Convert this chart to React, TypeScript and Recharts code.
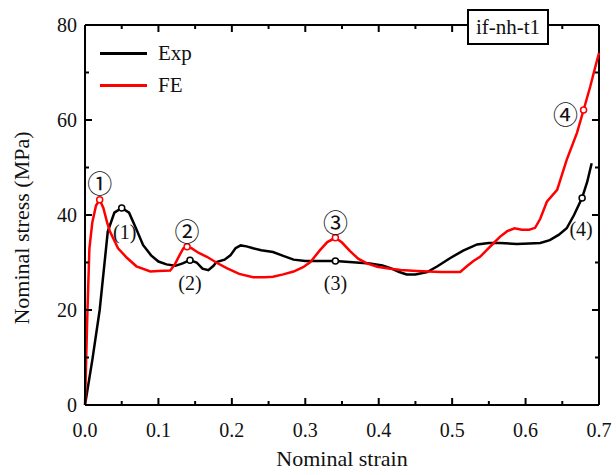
import React from "react";
import { LineChart, Line, XAxis, YAxis, ReferenceLine, LabelList } from "recharts";

const expStrain = [0, 0.01, 0.02, 0.031, 0.04, 0.05, 0.06, 0.07, 0.079, 0.09, 0.1, 0.111, 0.123, 0.133, 0.143, 0.152, 0.16, 0.168, 0.175, 0.179, 0.19, 0.198, 0.205, 0.212, 0.22, 0.229, 0.24, 0.256, 0.27, 0.284, 0.3, 0.32, 0.341, 0.36, 0.388, 0.405, 0.416, 0.428, 0.438, 0.45, 0.466, 0.48, 0.497, 0.515, 0.534, 0.55, 0.565, 0.588, 0.605, 0.62, 0.633, 0.645, 0.656, 0.666, 0.677, 0.684, 0.69];
const expStress = [0, 9.5, 20, 36.5, 40.5, 41.5, 40.5, 37, 33.7, 31.5, 30.2, 29.6, 29.3, 29.8, 30.5, 30.0, 28.7, 28.4, 29.3, 30.1, 30.6, 31.5, 33, 33.6, 33.4, 33.0, 32.6, 32.2, 31.4, 30.6, 30.3, 30.3, 30.3, 30.1, 29.8, 29.4, 28.8, 28.0, 27.5, 27.5, 28.0, 29.2, 30.9, 32.5, 33.8, 34.1, 34.1, 33.9, 34.0, 34.1, 34.7, 35.8, 37.2, 40, 43.6, 47, 50.9];

const feStrain = [0, 0.003, 0.006, 0.01, 0.015, 0.02, 0.025, 0.03, 0.034, 0.045, 0.057, 0.07, 0.089, 0.1, 0.116, 0.122, 0.129, 0.134, 0.139, 0.145, 0.155, 0.166, 0.18, 0.193, 0.21, 0.229, 0.245, 0.256, 0.27, 0.284, 0.297, 0.307, 0.32, 0.33, 0.341, 0.35, 0.361, 0.372, 0.384, 0.398, 0.411, 0.43, 0.452, 0.484, 0.511, 0.52, 0.529, 0.538, 0.547, 0.556, 0.565, 0.575, 0.585, 0.595, 0.605, 0.613, 0.62, 0.629, 0.643, 0.656, 0.67, 0.679, 0.688, 0.695, 0.7];
const feStress = [0, 18, 33, 38.5, 42, 43.2, 41.5, 38.5, 36.5, 33, 31, 29.2, 28.1, 28.2, 28.3, 29.5, 31.6, 33, 33.3, 33, 32, 31.2, 29.9, 28.8, 27.6, 26.9, 26.9, 27.0, 27.5, 28.1, 29, 30.1, 32.6, 34.3, 35.2, 34.2, 32.4, 30.8, 29.8, 29.1, 28.8, 28.4, 28.2, 28.0, 28.0, 29.2, 30.3, 31.2, 32.6, 34, 35.4, 36.6, 37.2, 36.9, 36.9, 37.3, 39.2, 42.8, 45.3, 51.6, 57.3, 62.1, 67.0, 71.2, 74.1];

const xTicks = [0, 0.05, 0.1, 0.15, 0.2, 0.25, 0.3, 0.35, 0.4, 0.45, 0.5, 0.55, 0.6, 0.65, 0.7];
const yTicks = [0, 10, 20, 30, 40, 50, 60, 70, 80];

const expMarks = [0.05, 0.143, 0.341, 0.677];
const expNotes = ["(1)", "(2)", "(3)", "(4)"];
const feMarks = [0.02, 0.139, 0.341, 0.679];
const feNotes = ["①", "②", "③", "④"];

const expData = expStrain.map((s, i) => ({ strain: s, exp: expStress[i] }));
const feData = feStrain.map((s, i) => ({ strain: s, fe: feStress[i] }));
const expMarkData = expMarks.map((m, i) => ({
    strain: m,
    expMark: expStress[expStrain.indexOf(m)],
    note: expNotes[i],
}));
const feMarkData = feMarks.map((m, i) => ({
    strain: m,
    feMark: feStress[feStrain.indexOf(m)],
    note: feNotes[i],
}));

const FONT = "'Liberation Serif', 'Times New Roman', serif";
const W = 616;
const H = 475;
const M = { top: 25, right: 17, left: 25, bottom: 30 };
const TOP = M.top;
const RIGHT = W - M.right;

// label offsets (px) relative to each marker
const expOffsets = [[3, 24], [0, 23], [0, 22], [-1, 31]];
const feOffsets = [[0, -18], [0, -17], [0, -17], [-18, 3]];

const isMajor = (v: number, step: number) =>
    Math.abs(v / step - Math.round(v / step)) < 1e-6;

const BottomTick = (props: any) => {
    const { x, y, payload } = props;
    const len = isMajor(payload.value, 0.1) ? 7 : 4;
    return (
        <g>
            <path d={`M${x},${y}V${y - len}`} stroke="#000" strokeWidth={2} fill="none" />
            <path d={`M${x},${TOP}V${TOP + len}`} stroke="#000" strokeWidth={2} fill="none" />
            {len === 7 && (
                <text x={x} y={y + 32} textAnchor="middle" fontSize={20} fontFamily={FONT} fill="#111">
                    {payload.value.toFixed(1)}
                </text>
            )}
        </g>
    );
};

const LeftTick = (props: any) => {
    const { x, y, payload } = props;
    const len = isMajor(payload.value, 20) ? 7 : 4;
    return (
        <g>
            <path d={`M${x},${y}H${x + len}`} stroke="#000" strokeWidth={2} fill="none" />
            <path d={`M${RIGHT},${y}H${RIGHT - len}`} stroke="#000" strokeWidth={2} fill="none" />
            {len === 7 && (
                <text x={x - 8} y={y + 7} textAnchor="end" fontSize={20} fontFamily={FONT} fill="#111">
                    {payload.value}
                </text>
            )}
        </g>
    );
};

const NoteLabel = (props: any) => {
    const { x, y, viewBox, value, index, offsets, circled } = props;
    const px = typeof x === "number" ? x : viewBox?.x ?? 0;
    const py = typeof y === "number" ? y : viewBox?.y ?? 0;
    const off = offsets[index] || [0, 0];
    return (
        <text
            x={px + off[0]}
            y={py + off[1]}
            textAnchor="middle"
            dominantBaseline="central"
            fontSize={circled ? 25 : 20}
            fontFamily={circled ? "'Noto Sans CJK SC', 'DejaVu Sans'" : FONT}
            fill="#111"
        >
            {value}
        </text>
    );
};

const legendItems = [
    { name: "Exp", color: "#000" },
    { name: "FE", color: "#ff0000" },
];

export default function App() {
    return (
        <div style={{ position: "absolute", left: 0, top: 0, width: W, height: H, background: "#fff" }}>
            <LineChart width={W} height={H} margin={M}>
                <XAxis
                    dataKey="strain"
                    type="number"
                    domain={[0, 0.7]}
                    ticks={xTicks}
                    minTickGap={-100}
                    tickSize={0}
                    tickMargin={0}
                    tickLine={false}
                    tick={<BottomTick />}
                    axisLine={{ stroke: "#000", strokeWidth: 2 }}
                    height={40}
                />
                <YAxis
                    type="number"
                    domain={[0, 80]}
                    ticks={yTicks}
                    minTickGap={-100}
                    width={60}
                    tickSize={0}
                    tickMargin={0}
                    tickLine={false}
                    tick={<LeftTick />}
                    axisLine={{ stroke: "#000", strokeWidth: 2 }}
                />
                <ReferenceLine y={80} stroke="#000" strokeWidth={2} />
                <ReferenceLine x={0.7} stroke="#000" strokeWidth={2} />
                <Line
                    data={expData}
                    dataKey="exp"
                    name="Exp"
                    type="linear"
                    stroke="#000"
                    strokeWidth={2.5}
                    dot={false}
                    isAnimationActive={false}
                />
                <Line
                    data={feData}
                    dataKey="fe"
                    name="FE"
                    type="linear"
                    stroke="#ff0000"
                    strokeWidth={2.5}
                    dot={false}
                    isAnimationActive={false}
                />
                <Line
                    data={expMarkData}
                    dataKey="expMark"
                    name="Exp marks"
                    stroke="none"
                    dot={{ r: 3, fill: "#fff", stroke: "#000", strokeWidth: 1.5 }}
                    isAnimationActive={false}
                >
                    <LabelList dataKey="note" content={<NoteLabel offsets={expOffsets} circled={false} />} />
                </Line>
                <Line
                    data={feMarkData}
                    dataKey="feMark"
                    name="FE marks"
                    stroke="none"
                    dot={{ r: 3, fill: "#fff", stroke: "#ff0000", strokeWidth: 1.5 }}
                    isAnimationActive={false}
                >
                    <LabelList dataKey="note" content={<NoteLabel offsets={feOffsets} circled />} />
                </Line>
            </LineChart>
            <div
                style={{
                    position: "absolute",
                    left: 22,
                    top: 228,
                    transform: "translate(-50%, -50%) rotate(-90deg)",
                    whiteSpace: "nowrap",
                    fontFamily: FONT,
                    fontSize: 22,
                    color: "#111",
                }}
            >
                Nominal stress (MPa)
            </div>
            <div
                style={{
                    position: "absolute",
                    left: 342,
                    top: 447,
                    transform: "translateX(-50%)",
                    whiteSpace: "nowrap",
                    fontFamily: FONT,
                    fontSize: 22,
                    lineHeight: "24px",
                    color: "#111",
                }}
            >
                Nominal strain
            </div>
            <div style={{ position: "absolute", left: 100, top: 37, fontFamily: FONT, fontSize: 21, color: "#111" }}>
                {legendItems.map((it) => (
                    <div key={it.name} style={{ display: "flex", alignItems: "center", height: 32 }}>
                        <div style={{ width: 47, height: 3, background: it.color, marginRight: 11 }} />
                        <span>{it.name}</span>
                    </div>
                ))}
            </div>
            <div
                style={{
                    position: "absolute",
                    left: 467,
                    top: 9,
                    width: 78,
                    height: 32,
                    border: "2px solid #000",
                    background: "#fff",
                    fontFamily: FONT,
                    fontSize: 21,
                    color: "#111",
                    display: "flex",
                    alignItems: "center",
                    justifyContent: "center",
                }}
            >
                if-nh-t1
            </div>
        </div>
    );
}
